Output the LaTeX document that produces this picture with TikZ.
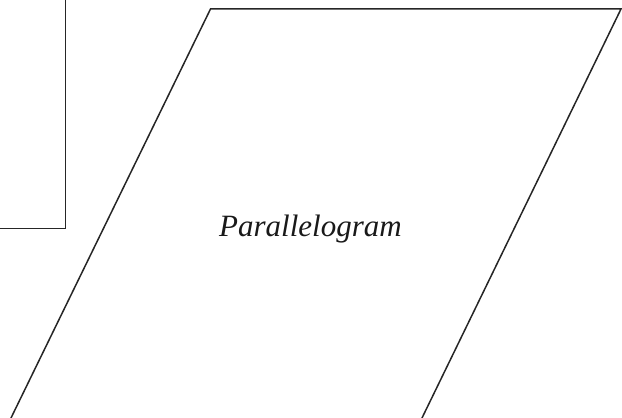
\documentclass[tikz,border=0pt]{standalone}
\usepackage{fontspec}
\setmainfont{Liberation Serif}
\usetikzlibrary{positioning,calc}

\begin{document}
\begin{tikzpicture}[x=1pt,y=1pt,line width=1.5pt,draw=black!85]
        \useasboundingbox (0,0) rectangle (622,418);
        \clip (0,0) rectangle (622,418);
        \coordinate (boxcorner) at (65.5,189.5);
        \draw (-20,189.5) -- (boxcorner) -- (65.5,440);
        \coordinate (bl) at (11,0);
        \coordinate (tl) at (210.5,409);
        \coordinate (tr) at (621,409);
        \coordinate (br) at (422,0);
        \draw[line join=miter] ($(bl)!-0.05!(tl)$) -- (tl) -- (tr) -- ($(br)!-0.05!(tr)$);
        \node[font=\fontsize{31}{37}\selectfont\itshape,anchor=base,text=black!90] (shape) at (310.5,181) {Parallelogram};
    \end{tikzpicture}
\end{document}
